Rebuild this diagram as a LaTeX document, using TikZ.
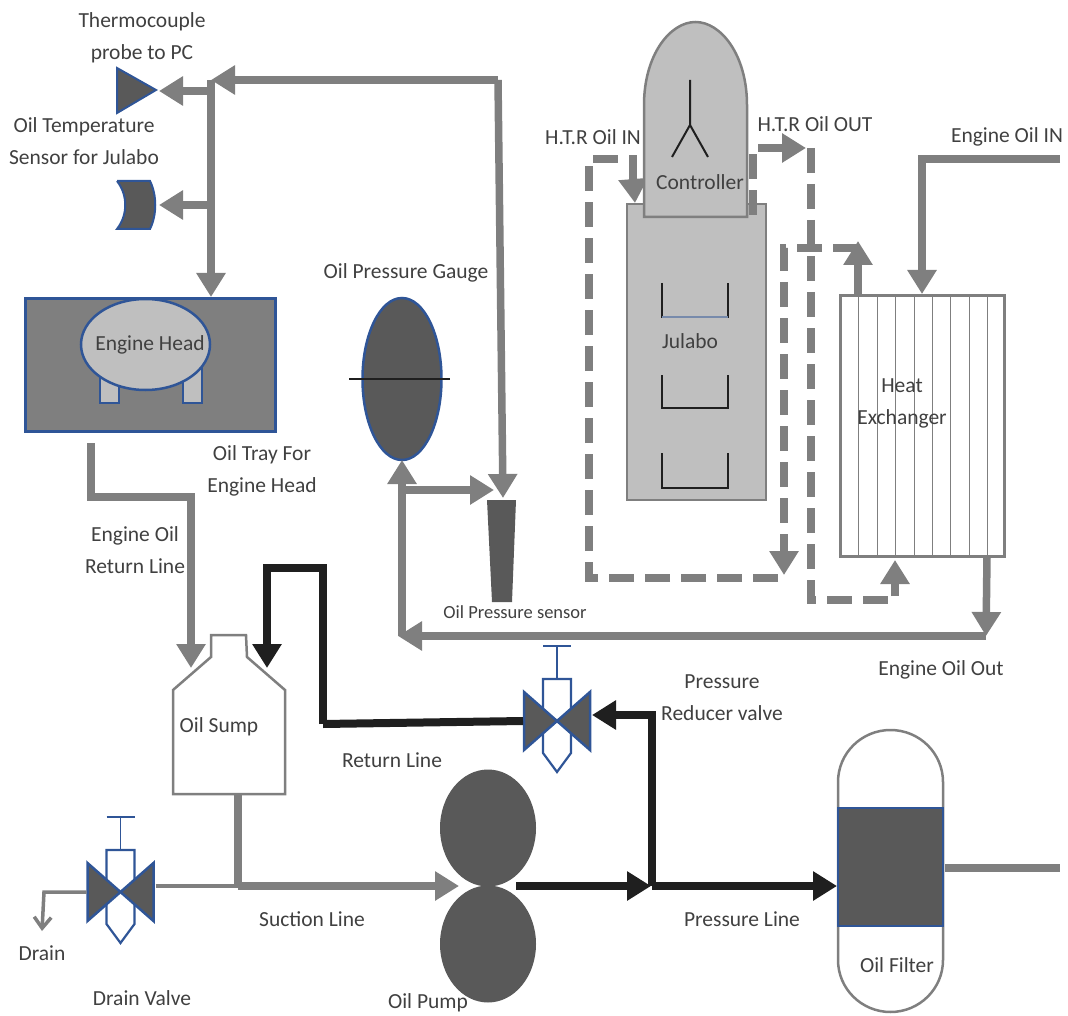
\documentclass[tikz,border=0pt]{standalone}
\usepackage{fontspec}
\setmainfont{Carlito}
\usetikzlibrary{arrows.meta, shapes.geometric}
\definecolor{pipegray}{RGB}{127, 127, 127}
\definecolor{pipeblack}{RGB}{31, 31, 31}
\definecolor{darkfill}{RGB}{89, 89, 89}
\definecolor{lightfill}{RGB}{191, 191, 191}
\definecolor{edgeblue}{RGB}{47, 85, 151}
\definecolor{labeltext}{RGB}{64, 64, 64}

\begin{document}
\begin{tikzpicture}[x=1pt, y=-1pt,
				>={Triangle[length=24pt,width=28pt]},
				pipe/.style={line width=7.5pt, color=pipegray},
				hot/.style={pipe, dash pattern=on 25pt off 11pt},
				press/.style={line width=7.5pt, color=pipeblack},
				thin pipe/.style={line width=3.5pt, color=pipegray},
				hull/.style={draw=pipegray, line width=2.5pt},
				lbl/.style={font=\fontsize{21.5}{32}\selectfont, text=labeltext, inner sep=0pt, align=center}]
				\useasboundingbox (0,0) rectangle (1068,1016);
				%Oil tray and engine head
				\node[draw=edgeblue, line width=2.5pt, fill=pipegray, minimum width=250pt, minimum height=133pt, inner sep=0pt] (tray) at (150.5,365) {};
				\foreach \x in {100,183} \draw[draw=edgeblue, line width=2pt, fill=lightfill] (\x,365) rectangle (\x+19,403);
				\node[ellipse, draw=edgeblue, line width=2.5pt, fill=lightfill, minimum width=129pt, minimum height=91pt, inner sep=0pt] (head) at (145.5,344.5) {};
				%Sensors
				\draw[draw=edgeblue, line width=2pt, fill=darkfill] (117,68) -- (156,90) -- (117,113) -- cycle;
				\draw[draw=edgeblue, line width=2pt, fill=darkfill] (117,181) -- (150,181) .. controls (157,195) and (157,215) .. (150,229) -- (117,229) .. controls (128,215) and (128,195) .. (117,181);
				\coordinate (probe) at (159,91);
				\coordinate (julabo sensor) at (159,205);
				%Gauge and pressure sensor
				\node[ellipse, draw=edgeblue, line width=2.5pt, fill=darkfill, minimum width=79pt, minimum height=162pt, inner sep=0pt] (gauge) at (402,379) {};
				\coordinate (gauge l) at (349,379);
				\coordinate (gauge r) at (450,379);
				\draw[pipeblack, line width=1.2pt] (gauge l) -- (gauge r);
				\fill[darkfill] (487,500) -- (516,500) -- (512,602) -- (492,602) -- cycle;
				%Julabo
				\draw[pipegray, line width=2.5pt, fill=lightfill] (627,204) rectangle (766,500);
				\foreach \y/\h in {283/34,375/33,453/35} \draw[pipeblack, line width=2pt] (662,\y) -- (662,\y+\h) -- (728,\y+\h) -- (728,\y);
				\draw[lightfill!50!edgeblue, line width=1.5pt] (662,317) -- (728,317);
				%Heat exchanger
				\node[draw=pipegray, line width=2.5pt, fill=white, minimum width=164pt, minimum height=261pt, inner sep=0pt] (hx) at (922.5,426) {};
				\foreach \x in {858,877,895,914,932,950,969,987} \draw[pipegray, line width=0.9pt] (\x,295) -- (\x,557);
				%Dashed heater lines
				\coordinate (htr in) at (635,203);
				\coordinate (htr a) at (633,159);
				\coordinate (htr b) at (589,159);
				\coordinate (htr c) at (589,578);
				\coordinate (htr d) at (778,578);
				\coordinate (htr e) at (784,575);
				\coordinate (htr f) at (784,248);
				\coordinate (hx top) at (858,248);
				\coordinate (hx tip) at (858,241);
				\coordinate (htr out) at (753,215);
				\coordinate (htr g) at (753,148);
				\coordinate (htr h) at (806,148);
				\coordinate (htr i) at (811,148);
				\coordinate (htr j) at (811,600);
				\coordinate (htr k) at (895,600);
				\coordinate (hx low) at (895,560);
				\draw[hot] (htr d) -- (htr c) -- (htr b) -- (htr a) -- (633,185);
				\draw[pipe, ->] (633,178) -- (htr in);
				\draw[hot] (hx top) -- (htr f) -- (784,552);
				\draw[pipe, ->] (784,548) -- (htr e);
				\draw[hot] (htr out) -- (htr g) -- (782,148);
				\draw[pipe, ->] (785,148) -- (htr h);
				\draw[hot] (htr i) -- (htr j) -- (htr k) -- (895,585);
				\draw[pipe, ->] (895,590) -- (hx low);
				\draw[pipe, ->] (858,295) -- (hx tip);
				%Controller
				\draw[pipegray, line width=2.5pt, fill=lightfill] (644,217) -- (644,105) .. controls (644,55) and (670,22) .. (695.5,22) .. controls (721,22) and (747,55) .. (747,105) -- (747,217) -- cycle;
				\draw[pipeblack, line width=2pt] (690,80) -- (690,125) -- (672,157);
				\draw[pipeblack, line width=2pt] (690,125) -- (708,157);
				%Engine oil lines
				\coordinate (top r) at (498,80);
				\coordinate (top l) at (211,80);
				\coordinate (sensor top) at (503,498);
				\coordinate (branch) at (211,91);
				\coordinate (branch b) at (211,205);
				\coordinate (tray top) at (211,297);
				\draw[pipe, ->] (top r) -- (top l);
				\draw[pipe, ->] (top r) -- (sensor top);
				\draw[pipe, ->] (branch) -- (probe);
				\draw[pipe, ->] (branch b) -- (julabo sensor);
				\draw[pipe, ->] (top l) -- (tray top);
				\coordinate (gauge tap) at (402,490);
				\coordinate (gauge foot) at (402,636);
				\coordinate (hx out) at (987,557);
				\coordinate (out corner) at (986,636);
				\coordinate (sensor l) at (494,490);
				\coordinate (gauge tip) at (402,460);
				\coordinate (out tip) at (398,636);
				\draw[pipe, ->] (hx out) -- (out corner);
				\draw[pipe, ->] (out corner) -- (out tip);
				\draw[pipe, ->] (gauge foot) -- (gauge tip);
				\draw[pipe, ->] (gauge tap) -- (sensor l);
				\coordinate (in r) at (1060,159);
				\coordinate (in c) at (922,159);
				\coordinate (hx in) at (922,294);
				\draw[pipe, ->] (in r) -- (in c) -- (hx in);
				\coordinate (tray out) at (91,443);
				\coordinate (ret a) at (91,497);
				\coordinate (ret b) at (191,497);
				\coordinate (sump l) at (191,668);
				\draw[pipe, ->] (tray out) -- (ret a) -- (ret b) -- (sump l);
				%Oil sump
				\draw[hull, fill=white] (211,635) -- (246,635) -- (247,657) -- (285,690) -- (285,794) -- (173,794) -- (173,690) -- (211,657) -- cycle;
				\coordinate (ret c) at (323,724);
				\coordinate (ret d) at (323,568);
				\coordinate (ret e) at (267,568);
				\coordinate (sump r) at (267,668);
				\draw[press, ->] (ret c) -- (ret d) -- (ret e) -- (sump r);
				%Valves
				\foreach \vx/\vy/\vn in {120.5/892/drain, 557/721/reducer}{
					\draw[edgeblue, line width=1.2pt] (\vx-14,\vy-75) -- (\vx+14,\vy-75);
					\draw[edgeblue, line width=1.2pt] (\vx,\vy-75) -- (\vx,\vy-42);
					\draw[edgeblue, line width=2.2pt, fill=white] (\vx-14,\vy-42) -- (\vx+14,\vy-42) -- (\vx+14,\vy+32) -- (\vx,\vy+51) -- (\vx-14,\vy+32) -- cycle;
					\draw[edgeblue, line width=2.5pt, fill=darkfill] (\vx-33,\vy-29) -- (\vx,\vy) -- (\vx-33,\vy+29) -- cycle;
					\draw[edgeblue, line width=2.5pt, fill=darkfill] (\vx+33,\vy-29) -- (\vx,\vy) -- (\vx+33,\vy+29) -- cycle;
					\coordinate (\vn-l) at (\vx-34,\vy);
					\coordinate (\vn-r) at (\vx+35,\vy-6);
				}
				\draw[line width=8pt, color=pipeblack] (reducer-l) -- (ret c);
				%Pump
				\foreach \y/\n in {828/pump-a,944/pump-b} \node[ellipse, fill=darkfill, minimum width=96pt, minimum height=117pt, inner sep=0pt] (\n) at (488,\y) {};
				%Oil filter
				\draw[hull, fill=white] (838,782) arc[start angle=180, end angle=360, x radius=52.5, y radius=52] -- (943,960) arc[start angle=0, end angle=180, x radius=52.5, y radius=52] -- cycle;
				\node[draw=edgeblue, line width=1.5pt, fill=darkfill, minimum width=105pt, minimum height=118pt, inner sep=0pt] (filter) at (890.5,867) {};
				%Suction, drain and pressure lines
				\coordinate (sump out) at (238,794);
				\coordinate (suction) at (238,886);
				\coordinate (pump in) at (459,886);
				\coordinate (drain c) at (44,892);
				\coordinate (drain end) at (42,931);
				\draw[pipe] (sump out) -- (suction);
				\draw[pipe, ->] (suction) -- (pump in);
				\draw[thin pipe] (drain-r) -- (suction);
				\draw[thin pipe, -{Straight Barb[length=11pt,width=17pt]}] (drain-l) -- (drain c) -- (drain end);
				\coordinate (pump out) at (516,886);
				\coordinate (split) at (652,886);
				\coordinate (split up) at (652,715);
				\coordinate (split tip) at (651,886);
				\coordinate (reducer in) at (592,715);
				\coordinate (filter in) at (837,886);
				\draw[press, ->] (pump out) -- (split tip);
				\draw[press, ->] (split) -- (filter in);
				\draw[press, ->] (split) -- (split up) -- (reducer in);
				\coordinate (filter out) at (945,868);
				\coordinate (filter end) at (1060,868);
				\draw[line width=8pt, color=pipegray] (filter out) -- (filter end);
				%Labels
				\node[lbl] (t probe) at (142,38) {Thermocouple\\probe to PC};
				\node[lbl] (t sensor) at (84,141) {Oil Temperature\\Sensor for Julabo};
				\node[lbl] (t head) at (150,345) {Engine Head};
				\node[lbl] (t gauge) at (406,273) {Oil Pressure Gauge};
				\node[lbl] (t tray) at (262,471) {Oil Tray For\\Engine Head};
				\node[lbl] (t htrin) at (593,137) {H.T.R Oil IN};
				\node[lbl] (t htrout) at (815,124) {H.T.R Oil OUT};
				\node[lbl] (t oilin) at (1007,137) {Engine Oil IN};
				\node[lbl] (t ctrl) at (700,182) {Controller};
				\node[lbl] (t julabo) at (690,341) {Julabo};
				\node[lbl] (t hx) at (902,403) {Heat\\Exchanger};
				\node[lbl] (t return) at (135,550) {Engine Oil\\Return Line};
				\node[lbl, font=\fontsize{18.5}{22}\selectfont] (t psensor) at (515,612) {Oil Pressure sensor};
				\node[lbl] (t sump) at (219,727) {Oil Sump};
				\node[lbl] (t retline) at (392,760) {Return Line};
				\node[lbl] (t suction) at (312,919) {Suction Line};
				\node[lbl] (t drain) at (42,953) {Drain};
				\node[lbl] (t dvalve) at (142,998) {Drain Valve};
				\node[lbl] (t pump) at (428,1003) {Oil Pump};
				\node[lbl] (t reducer) at (722,698) {Pressure\\Reducer valve};
				\node[lbl] (t oilout) at (941,670) {Engine Oil Out};
				\node[lbl] (t pline) at (742,919) {Pressure Line};
				\node[lbl] (t filter) at (897,965) {Oil Filter};
			\end{tikzpicture}
\end{document}
